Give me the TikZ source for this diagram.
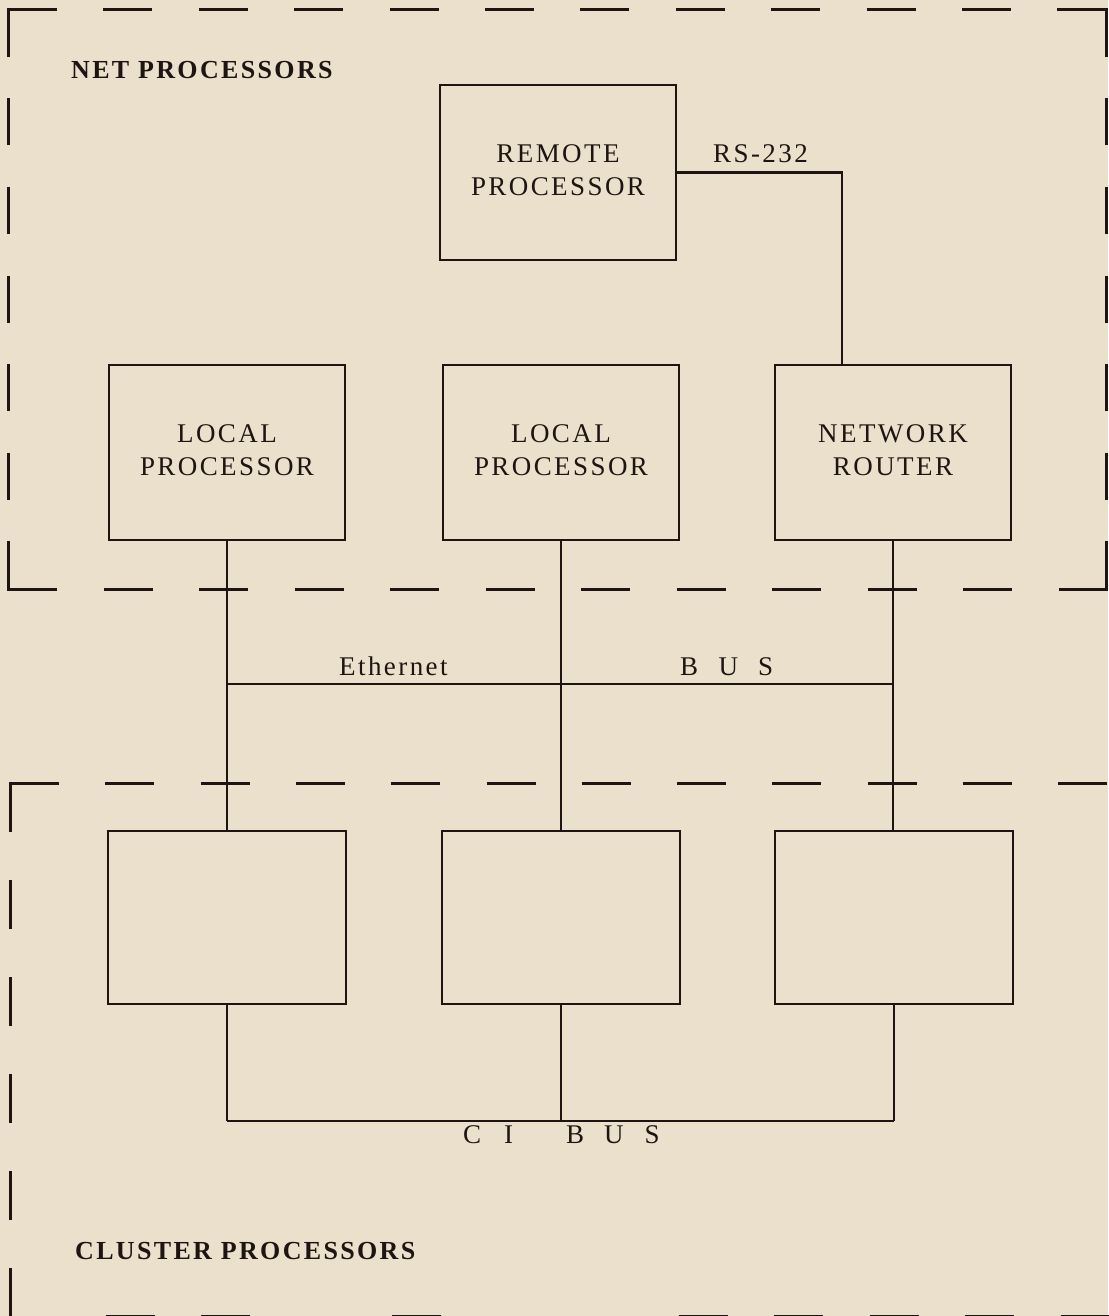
\documentclass[tikz,border=0pt]{standalone}
\usepackage{fontspec}
\setmainfont{Liberation Serif}[LetterSpace=9]
\definecolor{bg}{HTML}{EAE0CB}
\definecolor{ink}{HTML}{1E1512}
\newcommand\dgboxfont{\fontsize{27}{32.5}\selectfont}
\newcommand\dgtitlefont{\bfseries\fontsize{26}{30}\selectfont}
\begin{document}
\begin{tikzpicture}[x=1pt,y=-1pt,
  frame/.style={draw=ink, line width=3pt},
  box/.style={draw=ink, line width=2.6pt, minimum width=236pt, minimum height=175pt, inner sep=0pt, align=center, font=\dgboxfont, text=ink, text depth=4.8pt},
  cbox/.style={box, minimum width=238pt, minimum height=173pt},
  wire/.style={draw=ink, line width=2.4pt},
  lab/.style={font=\dgboxfont, text=ink, inner sep=0pt, anchor=base west},
  title/.style={font=\dgtitlefont, text=ink, inner sep=0pt, anchor=base west}]
\fill[bg] (0,0) rectangle (1108,1316);
\useasboundingbox (0,0) rectangle (1108,1316);

% --- net processors frame (dashed)
\draw[frame] (8,57) -- (8,10) -- (57,10);
\foreach \i in {1,...,10} \draw[frame] ({8+\i*95.4},10) -- ++(49,0);
\draw[frame] (1057,10) -- (1106,10) -- (1106,57);
\foreach \j in {1,...,5} {
  \draw[frame] (8,{10+\j*88.5}) -- ++(0,47);
  \draw[frame] (1106,{10+\j*88.5}) -- ++(0,47);
}
\draw[frame] (8,541) -- (8,589) -- (57,589);
\foreach \i in {1,...,10} \draw[frame] ({8+\i*95.5},589) -- ++(49,0);
\draw[frame] (1059,589) -- (1106,589) -- (1106,541);

% --- cluster processors frame (dashed)
\draw[frame] (10,832) -- (10,783) -- (59,783);
\foreach \i in {1,...,11} \draw[frame] ({10+\i*95.3},783) -- ++(49,0);
\foreach \j in {1,...,5} \draw[frame] (10,{783+\j*97}) -- ++(0,49);
\foreach \i in {1,2,4,7,8,9,10,11}
  \draw[frame] ({10+\i*95.5},1316) -- ++(49,0);

% --- boxes
\node[box] (remote) at (558,172.5) {REMOTE\\PROCESSOR};
\node[box] (lp1) at (227,452.5) {LOCAL\\PROCESSOR};
\node[box] (lp2) at (561,452.5) {LOCAL\\PROCESSOR};
\node[box] (router) at (893,452.5) {NETWORK\\ROUTER};
\node[cbox] (c1) at (227,917.5) {};
\node[cbox] (c2) at (561,917.5) {};
\node[cbox] (c3) at (894,917.5) {};

% --- bus coordinates
\coordinate (e1) at (227,684);
\coordinate (e3) at (893,684);
\coordinate (k1) at (227,1121);
\coordinate (k3) at (894,1121);
\coordinate (rs) at (842,0);

% --- connectors
\draw[wire] (remote.east) -| (router.north -| rs);
\draw[wire] (lp1.south) -- (c1.north);
\draw[wire] (lp2.south) -- (c2.north);
\draw[wire] (router.south) -- (router.south |- c3.north);
\draw[wire] (e1) -- (e3);
\draw[wire] (c1.south) -- (k1);
\draw[wire] (c2.south) -- (c2.south |- k1);
\draw[wire] (c3.south) -- (k3);
\draw[wire] (k1) -- (k3);

% --- labels
\node[lab] (rs232) at (713,163) {RS-232};
\node[lab] (eth) at (339,675) {Ethernet};
\node[lab] (bus) at (680,675) {B\hspace{20.5pt}U\hspace{20pt}S};
\node[lab] (cibus) at (463,1143) {C\hspace{23pt}I\hspace{53pt}B\hspace{20pt}U\hspace{21pt}S};
\node[title] (net) at (71,79) {NET PROCESSORS};
\node[title] (cluster) at (75,1259) {CLUSTER PROCESSORS};
\end{tikzpicture}
\end{document}
